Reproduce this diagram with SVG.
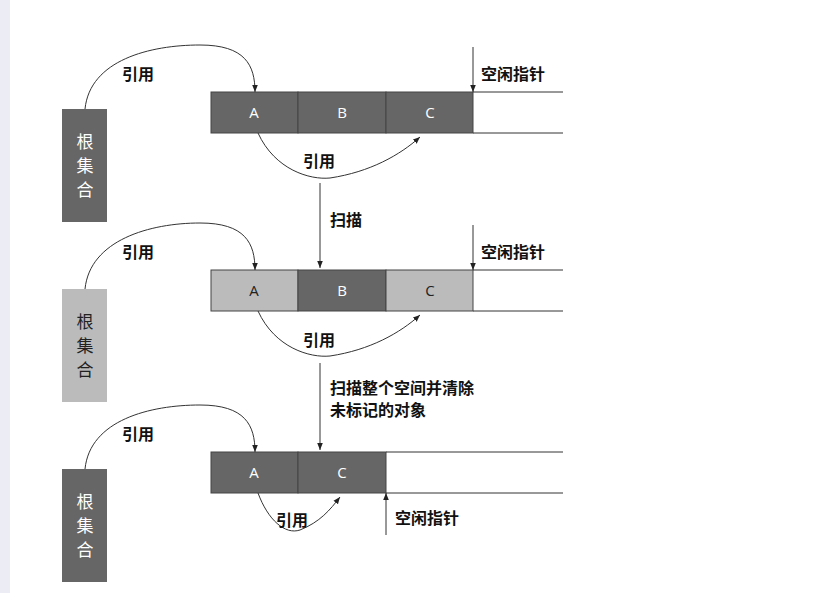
<svg xmlns="http://www.w3.org/2000/svg" width="839" height="593" viewBox="0 0 839 593">
<defs><marker id="ar" viewBox="0 0 10 10" refX="10" refY="5" markerWidth="7" markerHeight="9" orient="auto"><path d="M0,1 L10,5 L0,9 z" fill="#222"/></marker>
<style>.l{fill:none;stroke:#333;stroke-width:1}.t{font-family:"Noto Sans CJK SC",sans-serif;font-size:16px;font-weight:bold;fill:#111}.w{font-family:"Open Sans",sans-serif;font-size:15px;fill:#fff;text-anchor:middle}.d{fill:#666;stroke:#444}.g{fill:#bbb;stroke:#444}.r{font-family:"Noto Sans CJK SC",sans-serif;font-size:17px;fill:#fff;text-anchor:middle}</style></defs>
<rect width="839" height="593" fill="#fff"/><rect width="10" height="593" fill="#ececf4"/>
<g id="root1"><rect x="62" y="109" width="45" height="113" fill="#666"/><text class="r" x="85" y="148">根</text><text class="r" x="85" y="172">集</text><text class="r" x="85" y="196">合</text></g>
<g id="root2"><rect x="62" y="289" width="45" height="113" fill="#bbb"/><text class="r" x="85" y="328" style="fill:#222">根</text><text class="r" x="85" y="352" style="fill:#222">集</text><text class="r" x="85" y="376" style="fill:#222">合</text></g>
<g id="root3"><rect x="62" y="469" width="45" height="113" fill="#666"/><text class="r" x="85" y="508">根</text><text class="r" x="85" y="532">集</text><text class="r" x="85" y="556">合</text></g>
<g id="mem1"><rect class="d" x="211" y="92" width="87" height="41"/><rect class="d" x="298" y="92" width="88" height="41"/><rect class="d" x="386" y="92" width="87" height="41"/><path class="l" d="M473,92H563M473,133H563"/><text class="w" x="254" y="118">A</text><text class="w" x="342" y="118">B</text><text class="w" x="430" y="118">C</text></g>
<g id="mem2"><rect class="g" x="211" y="270" width="87" height="41"/><rect class="d" x="298" y="270" width="88" height="41"/><rect class="g" x="386" y="270" width="87" height="41"/><path class="l" d="M473,270H563M473,311H563"/><text class="w" x="254" y="296" style="fill:#222">A</text><text class="w" x="342" y="296" style="fill:#fff">B</text><text class="w" x="430" y="296" style="fill:#222">C</text></g>
<g id="mem3"><rect class="d" x="211" y="452" width="87" height="41"/><rect class="d" x="298" y="452" width="88" height="41"/><path class="l" d="M386,452H563M386,493H563"/><text class="w" x="254" y="478">A</text><text class="w" x="342" y="478">C</text></g>
<g id="connectors" class="l">
<path d="M85,109C90,60 150,45 200,45C245,45 255,65 255,92" marker-end="url(#ar)"/>
<path d="M258,133C275,170 310,180 330,178C370,172 400,155 420,137" marker-end="url(#ar)"/>
<path d="M473,47V92" marker-end="url(#ar)"/>
<path d="M320,183V268" marker-end="url(#ar)"/>
<path d="M85,289C90,240 150,223 200,223C245,223 255,243 255,270" marker-end="url(#ar)"/>
<path d="M258,311C275,348 310,358 330,356C370,350 400,333 420,315" marker-end="url(#ar)"/>
<path d="M473,225V270" marker-end="url(#ar)"/>
<path d="M320,363V450" marker-end="url(#ar)"/>
<path d="M85,469C90,420 150,405 200,405C245,405 255,425 255,452" marker-end="url(#ar)"/>
<path d="M258,493C268,520 285,535 300,530C320,522 330,510 340,497" marker-end="url(#ar)"/>
<path d="M386,535V493" marker-end="url(#ar)"/>
</g>
<g id="labels">
<text class="t" x="122" y="80">引用</text><text class="t" x="303" y="167">引用</text><text class="t" x="481" y="80">空闲指针</text><text class="t" x="330" y="226">扫描</text>
<text class="t" x="122" y="258">引用</text><text class="t" x="303" y="346">引用</text><text class="t" x="481" y="258">空闲指针</text>
<text class="t" x="330" y="394">扫描整个空间并清除</text><text class="t" x="330" y="416">未标记的对象</text>
<text class="t" x="122" y="440">引用</text><text class="t" x="276" y="526">引用</text><text class="t" x="395" y="524">空闲指针</text>
</g>
</svg>
